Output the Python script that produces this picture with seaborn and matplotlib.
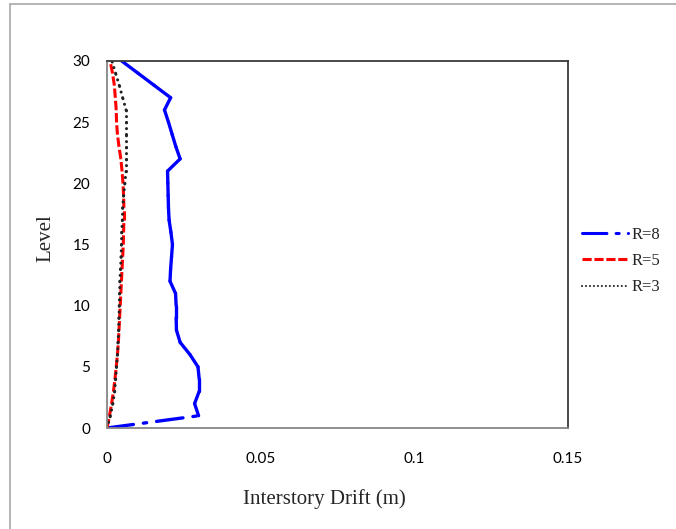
import numpy as np
import pandas as pd
import matplotlib
matplotlib.use("Agg")
import matplotlib.pyplot as plt
from matplotlib.lines import Line2D
import seaborn as sns

# ---------------- data ----------------
levels = list(range(0, 31))
drift_r8 = [0.0000, 0.0298, 0.0285, 0.0300, 0.0300, 0.0296, 0.0270, 0.0238, 0.0226, 0.0225,
            0.0225, 0.0223, 0.0205, 0.0207, 0.0210, 0.0213, 0.0208, 0.0202, 0.0200, 0.0199,
            0.0198, 0.0197, 0.0238, 0.0224, 0.0212, 0.0200, 0.0187, 0.0207, 0.0154, 0.0101,
            0.0048]
drift_r5 = [0.0000, 0.0008, 0.0015, 0.0021, 0.0026, 0.0030, 0.0034, 0.0037, 0.0039, 0.0041,
            0.0043, 0.0045, 0.0047, 0.0049, 0.0051, 0.0053, 0.0054, 0.0055, 0.0055, 0.0054,
            0.0052, 0.0049, 0.0045, 0.0039, 0.0034, 0.0031, 0.0030, 0.0027, 0.0024, 0.0018,
            0.0010]
drift_r3 = [0.0000, 0.0011, 0.0019, 0.0025, 0.0028, 0.0031, 0.0034, 0.0036, 0.0038, 0.0039,
            0.0040, 0.0041, 0.0042, 0.0044, 0.0046, 0.0047, 0.0048, 0.0050, 0.0051, 0.0054,
            0.0058, 0.0062, 0.0062, 0.0062, 0.0062, 0.0062, 0.0062, 0.0051, 0.0040, 0.0028,
            0.0016]
series_labels = ["R=8", "R=5", "R=3"]
x_ticks = [0, 0.05, 0.1, 0.15]
x_tick_labels = ["0", "0.05", "0.1", "0.15"]
y_ticks = [0, 5, 10, 15, 20, 25, 30]

# ---------------- style ----------------
sns.set_style("white")
plt.rcParams["font.family"] = ["Lato", "DejaVu Sans"]

W, H = 676, 529
fig = plt.figure(figsize=(W / 100, H / 100), dpi=100)
ax = fig.add_axes([107 / W, 1 - 428 / H, (568 - 107) / W, (428 - 61) / H])


def segments(x, y):
    rows = []
    for i in range(len(x) - 1):
        rows.append((x[i], y[i], i))
        rows.append((x[i + 1], y[i + 1], i))
    return pd.DataFrame(rows, columns=["drift", "level", "seg"])


styles = [
    dict(color="#0000FF", lw=2.4, linestyle=(0, (8, 3, 1, 3)), solid_capstyle="round",
         dash_capstyle="round"),
    dict(color="#FF0000", lw=2.2, linestyle=(0, (3, 0.9)), dash_capstyle="butt"),
    dict(color="#222222", lw=2.2, linestyle=(0, (0.01, 1.9)), dash_capstyle="round"),
]

for xs, st in zip([drift_r8, drift_r5, drift_r3], styles):
    df = segments(xs, levels)
    sns.lineplot(data=df, x="drift", y="level", units="seg", estimator=None,
                 sort=False, orient="y", ax=ax, legend=False, **st)

ax.set_xlim(0, 0.15)
ax.set_ylim(0, 30)
ax.set_xticks(x_ticks)
ax.set_xticklabels(x_tick_labels)
ax.set_yticks(y_ticks)
ax.tick_params(axis="both", length=0, labelsize=11, colors="#000000")
ax.tick_params(axis="x", pad=17)
ax.tick_params(axis="y", pad=12)

for side in ["left", "bottom"]:
    ax.spines[side].set_color("#868686")
    ax.spines[side].set_linewidth(1.3)
for side in ["top", "right"]:
    ax.spines[side].set_color("#3a3a3a")
    ax.spines[side].set_linewidth(1.3)

serif = ["Liberation Serif", "DejaVu Serif"]
ax.set_xlabel("Interstory Drift (m)", family=serif, fontsize=15)
ax.set_ylabel("Level", family=serif, fontsize=15)
ax.xaxis.set_label_coords((324 - 107) / 461, -0.166)
ax.yaxis.set_label_coords(-0.111, 0.518)

leg_styles = [dict(st) for st in styles]
leg_styles[0]["lw"] = 2.2
leg_styles[2]["lw"] = 1.5
handles = [Line2D([], [], **st) for st in leg_styles]
leg = ax.legend(handles, series_labels, loc="center left",
                bbox_to_anchor=(582 / W, 1 - 261 / H), bbox_transform=fig.transFigure,
                frameon=False, prop={"family": serif, "size": 12},
                handlelength=2.75, handletextpad=0.25, labelspacing=0.62,
                borderpad=0, borderaxespad=0)

# outer chart border (top and left visible)
fig.add_artist(Line2D([10 / W, 10 / W], [0, 1 - 4 / H], transform=fig.transFigure,
                      color="#a0a0a0", lw=1.1))
fig.add_artist(Line2D([10 / W, 1], [1 - 4 / H, 1 - 4 / H], transform=fig.transFigure,
                      color="#a0a0a0", lw=1.1))

fig.savefig("out.png", dpi=100)
